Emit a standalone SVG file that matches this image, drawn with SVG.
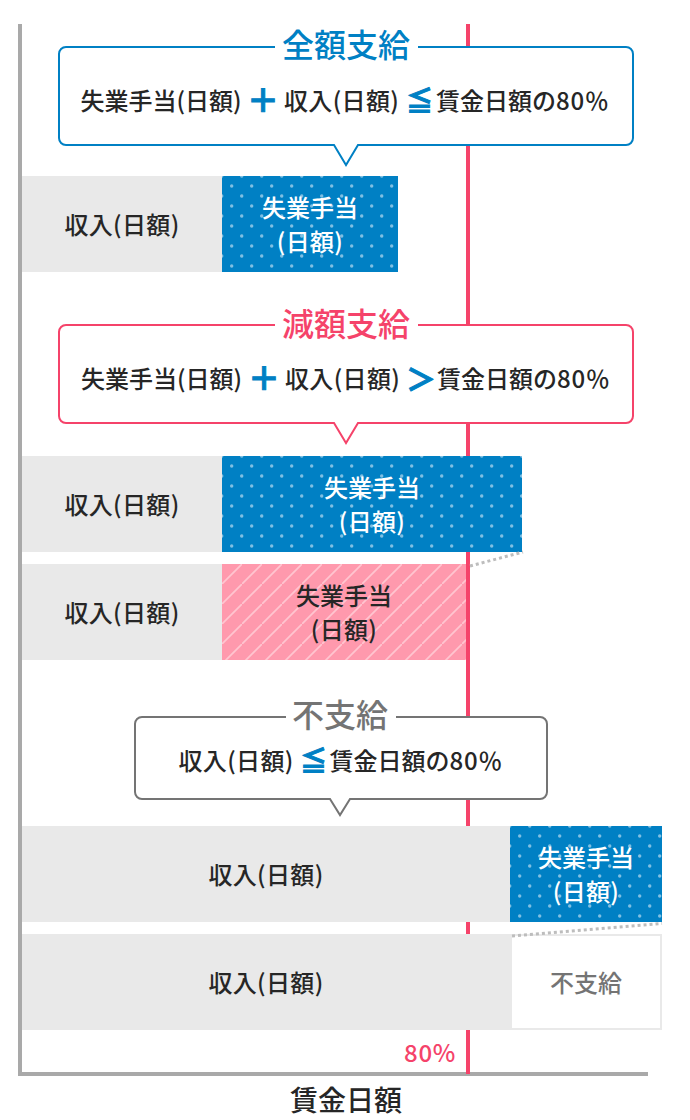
<svg xmlns="http://www.w3.org/2000/svg" width="690" height="1120" viewBox="0 0 690 1120">
<style>
text{font-family:"Noto Sans CJK JP","Noto Sans",sans-serif;font-weight:500;font-size:24px;fill:#262626}
.m{text-anchor:middle}
.w{fill:#fff}
.t{font-size:32px;text-anchor:middle}
.g{fill:#e9e9e9}
.s{letter-spacing:.35px}
.n{letter-spacing:.7px}
.sym{fill:#0080c4;stroke:#0080c4;stroke-width:1px;font-weight:700;text-anchor:middle}
.box{fill:#fff;stroke-width:2}
</style>
<defs>
<pattern id="dots" width="20" height="20" patternUnits="userSpaceOnUse">
<rect width="20" height="20" fill="#0080c4"/>
<circle cx="9.7" cy="10" r="1.7" fill="#7fbfe2"/><circle cx="-0.3" cy="0" r="1.7" fill="#7fbfe2"/><circle cx="19.7" cy="0" r="1.7" fill="#7fbfe2"/><circle cx="-0.3" cy="20" r="1.7" fill="#7fbfe2"/><circle cx="19.7" cy="20" r="1.7" fill="#7fbfe2"/>
</pattern>
<pattern id="stripes" width="20" height="20" patternUnits="userSpaceOnUse">
<rect width="20" height="20" fill="#ff99ad"/>
<path d="M-2 22L22 -2" stroke="#ffc5d0" stroke-width="1.7"/>
</pattern>
</defs>
<rect width="690" height="1120" fill="#fff"/>
<g id="axes">
<rect x="466" y="24" width="4" height="1050" fill="#f5436a"/>
<rect x="18" y="24" width="4" height="1052" fill="#a9a9a9"/>
<rect x="18" y="1072" width="630" height="4" fill="#a9a9a9"/>
<rect x="466" y="1030" width="4" height="44" fill="#f5436a"/>
</g>
<g id="zengaku-bars">
<rect class="g" x="22" y="176" width="200" height="96"/>
<text class="m s" x="122" y="234">収入(日額)</text>
<g transform="translate(222 176)"><rect width="176" height="96" fill="url(#dots)"/></g>
<text class="m w" x="310" y="217">失業手当</text>
<text class="m w s" x="310" y="251">(日額)</text>
</g>
<g id="gengaku-bar1">
<rect class="g" x="22" y="456" width="200" height="96"/>
<text class="m s" x="122" y="514">収入(日額)</text>
<g transform="translate(222 456)"><rect width="300" height="96" fill="url(#dots)"/></g>
<text class="m w" x="372" y="497">失業手当</text>
<text class="m w s" x="372" y="531">(日額)</text>
</g>
<g id="gengaku-bar2">
<rect class="g" x="22" y="564" width="200" height="96"/>
<text class="m s" x="122" y="622">収入(日額)</text>
<g transform="translate(222 564)"><rect width="244" height="96" fill="url(#stripes)"/></g>
<text class="m" x="344" y="605">失業手当</text>
<text class="m s" x="344" y="639">(日額)</text>
</g>
<g id="fushikyu-bar1">
<rect class="g" x="22" y="826" width="488" height="96"/>
<text class="m s" x="266" y="884">収入(日額)</text>
<g transform="translate(510 826)"><rect width="152" height="96" fill="url(#dots)"/></g>
<text class="m w" x="586" y="867">失業手当</text>
<text class="m w s" x="586" y="901">(日額)</text>
</g>
<g id="fushikyu-bar2">
<rect class="g" x="22" y="934" width="488" height="96"/>
<text class="m s" x="266" y="992">収入(日額)</text>
<rect x="511" y="935" width="150" height="94" fill="#fff" stroke="#e9e9e9" stroke-width="2"/>
<text class="m" x="586" y="992" style="fill:#747474">不支給</text>
</g>
<g id="connectors" fill="none" stroke="#bdbdbd" stroke-width="3" stroke-dasharray="3 3">
<path d="M470 566L523 552"/>
<path d="M512 936L662 923.500"/>
</g>
<g id="zengaku">
<path class="box" stroke="#0080c4" d="M66 47H626a7 7 0 0 1 7 7V138a7 7 0 0 1-7 7H358L346 165L334 145H66a7 7 0 0 1-7-7V54a7 7 0 0 1 7-7Z"/>
<rect x="275" y="38" width="143" height="20" fill="#fff"/>
<text class="t" x="346" y="57" style="fill:#0080c4">全額支給</text>
<text x="80.500" y="110">失業手当(日額)</text>
<text class="sym" x="263" y="112" style="font-size:32px">＋</text>
<text x="284" y="110" class="s">収入(日額)</text>
<text class="sym" x="419.500" y="111" style="font-size:27px">≦</text>
<text x="436" y="110">賃金日額の<tspan class="n">80</tspan>％</text>
</g>
<g id="gengaku">
<path class="box" stroke="#f5436a" d="M66 325H626a7 7 0 0 1 7 7V416a7 7 0 0 1-7 7H358L346 443L334 423H66a7 7 0 0 1-7-7V332a7 7 0 0 1 7-7Z"/>
<rect x="275" y="316" width="143" height="20" fill="#fff"/>
<text class="t" x="346" y="336" style="fill:#f5436a">減額支給</text>
<text x="81" y="388">失業手当(日額)</text>
<text class="sym" x="264" y="390" style="font-size:32px">＋</text>
<text x="285" y="388" class="s">収入(日額)</text>
<text class="sym" x="421" y="390" style="font-size:30px">＞</text>
<text x="437" y="388">賃金日額の<tspan class="n">80</tspan>％</text>
</g>
<g id="fushikyu">
<path class="box" stroke="#747474" d="M142 717H540a7 7 0 0 1 7 7V792a7 7 0 0 1-7 7H350L340 815L330 799H142a7 7 0 0 1-7-7V724a7 7 0 0 1 7-7Z"/>
<rect x="286" y="708" width="110" height="20" fill="#fff"/>
<text class="t" x="340" y="727" style="fill:#747474">不支給</text>
<text x="178.500" y="770" class="s">収入(日額)</text>
<text class="sym" x="313.500" y="771" style="font-size:27px">≦</text>
<text x="329.500" y="770">賃金日額の<tspan class="n">80</tspan>％</text>
</g>
<g id="labels">
<text x="430" y="1062" class="m n" style="fill:#f5436a">80%</text>
<text x="346" y="1111" class="m" style="font-size:28px">賃金日額</text>
</g>
</svg>
